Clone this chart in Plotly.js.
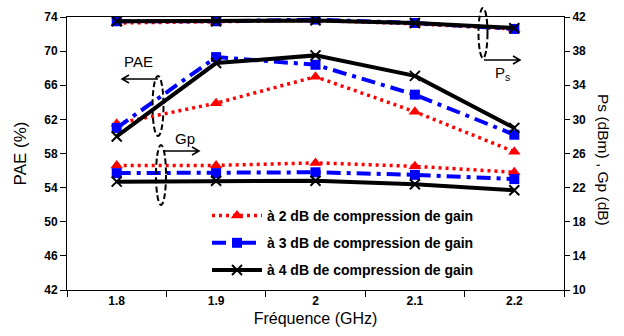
<!DOCTYPE html>
<html><head><meta charset="utf-8">
<script src="https://cdn.plot.ly/plotly-3.0.1.min.js"></script>
<style>html,body{margin:0;padding:0;background:#fff}#c{width:624px;height:336px}</style>
</head><body><div id="c"></div>
<script>
const freq = ['1.8','1.9','2','2.1','2.2'];
const pae2 = [61.5, 63.9, 67.0, 62.9, 58.2];
const pae3 = [61.0, 69.3, 68.4, 64.9, 60.2];
const pae4 = [60.0, 68.6, 69.5, 67.1, 61.0];
const ps2 = [41.3, 41.4, 41.6, 41.2, 40.6];
const ps3 = [41.5, 41.5, 41.7, 41.3, 40.6];
const ps4 = [41.5, 41.5, 41.6, 41.3, 40.7];
const gp2 = [24.6, 24.6, 24.9, 24.5, 23.8];
const gp3 = [23.7, 23.7, 23.8, 23.5, 23.0];
const gp4 = [22.7, 22.8, 22.8, 22.4, 21.7];
const names = ['à 2 dB de compression de gain','à 3 dB de compression de gain','à 4 dB de compression de gain'];

const styles = [
  {line:{color:'#ff0000', width:3.5, dash:'3px,4px'}, marker:{symbol:'triangle-up', size:11, color:'#ff0000'}},
  {line:{color:'#0000ff', width:4, dash:'14px,6px,4px,6px'}, marker:{symbol:'square', size:10, color:'#0000ff'}},
  {line:{color:'#000000', width:4}, marker:{symbol:'x-thin-open', size:10, color:'#000', line:{width:2, color:'#000'}}}
];
const pae = [pae2, pae3, pae4], ps = [ps2, ps3, ps4], gp = [gp2, gp3, gp4];
const traces = [];
for (let i = 0; i < 3; i++) {
  const g = 'g' + i;
  traces.push({x:freq, y:gp[i], yaxis:'y2', mode:'lines+markers', line:styles[i].line, marker:styles[i].marker, legendgroup:g, showlegend:false});
  traces.push({x:freq, y:ps[i], yaxis:'y2', mode:'lines+markers', line:styles[i].line, marker:styles[i].marker, legendgroup:g, showlegend:false});
  traces.push({x:freq, y:pae[i], yaxis:'y', mode:'lines+markers', name:names[i], line:styles[i].line, marker:styles[i].marker, legendgroup:g, showlegend:true});
}

const L = 67, R = 564, T = 17, B = 290;
const px = x => (x - L) / (R - L);
const py = y => (B - y) / (B - T);

function ellipse(cx, cy, w, h) {
  return {type:'circle', xref:'paper', yref:'paper', x0:px(cx - w/2), x1:px(cx + w/2), y0:py(cy + h/2), y1:py(cy - h/2), line:{color:'#000', width:2, dash:'6px,3px'}};
}
function arrow(x0, x1, y) {
  const d = x1 > x0 ? -1 : 1;
  const path = `M ${px(x0)} ${py(y)} L ${px(x1)} ${py(y)} M ${px(x1 + d*7)} ${py(y - 4)} L ${px(x1)} ${py(y)} L ${px(x1 + d*7)} ${py(y + 4)}`;
  return {type:'path', xref:'paper', yref:'paper', path:path, line:{color:'#000', width:1.5}};
}
function label(x, y, text, size, angle) {
  return {xref:'paper', yref:'paper', x:px(x), y:py(y), xanchor:'center', yanchor:'middle', text:text, showarrow:false,
    textangle:angle || 0, font:{size:size, color:'#000'}};
}

const tickFont = {family:'Liberation Sans, Arial, sans-serif', size:12, color:'#000', weight:'bold'};
const layout = {
  width:624, height:336,
  margin:{l:L, r:624 - R, t:T, b:336 - B},
  paper_bgcolor:'#fff', plot_bgcolor:'#fff',
  font:{family:'Liberation Sans, Arial, sans-serif', color:'#000'},
  xaxis:{type:'category', tickson:'boundaries', range:[-0.5, 4.5], showline:true, linecolor:'#000', linewidth:1, mirror:true,
    ticks:'outside', ticklen:6, tickcolor:'#000', showgrid:false, zeroline:false, tickfont:tickFont,
    title:{text:'Fréquence (GHz)', font:{size:16, color:'#000'}, standoff:5}},
  yaxis:{range:[42, 74], tick0:42, dtick:4, showline:true, linecolor:'#000', linewidth:1, ticks:'outside', ticklen:6, tickcolor:'#000',
    showgrid:false, zeroline:false, tickfont:tickFont, title:{text:'PAE (%)', font:{size:17, color:'#000'}, standoff:13}},
  yaxis2:{range:[10, 42], tick0:10, dtick:4, overlaying:'y', side:'right', showline:true, linecolor:'#000', linewidth:1, ticks:'outside', ticklen:5,
    tickcolor:'#000', showgrid:false, zeroline:false, tickfont:tickFont},
  showlegend:true,
  legend:{x:px(207), y:py(200), xanchor:'left', yanchor:'top', bgcolor:'rgba(0,0,0,0)', borderwidth:0,
    font:{family:'Liberation Sans, Arial, sans-serif', size:14, color:'#000', weight:'bold'}, tracegroupgap:6, itemwidth:50},
  shapes:[
    ellipse(158, 106, 11, 60),
    ellipse(161, 175, 10, 60),
    ellipse(483, 33, 9, 50),
    arrow(158, 122, 79),
    arrow(163, 199, 151),
    arrow(484, 520, 60)
  ],
  annotations:[
    label(138, 62, 'PAE', 15),
    label(185, 138, 'Gp', 15),
    label(502, 73, 'P<sub>s</sub>', 15),
    label(604, 160, 'Ps (dBm) , Gp (dB)', 15.5, 90)
  ]
};
Plotly.newPlot('c', traces, layout, {displayModeBar:false, staticPlot:true});
</script></body></html>
